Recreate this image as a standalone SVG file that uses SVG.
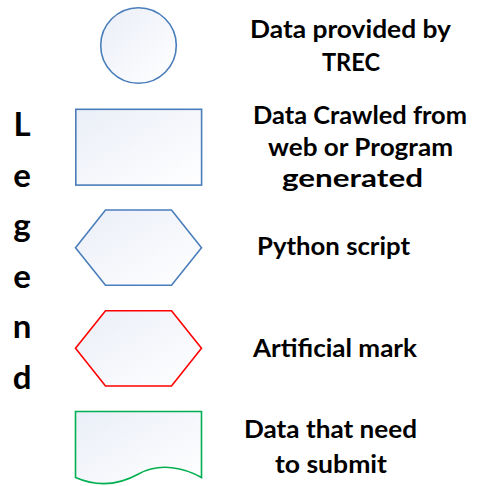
<svg xmlns="http://www.w3.org/2000/svg" width="477" height="486" viewBox="0 0 477 486">
<defs>
<linearGradient id="g" x1="0" y1="0" x2="1" y2="1">
<stop offset="0" stop-color="#eaeef7"/>
<stop offset="1" stop-color="#ffffff"/>
</linearGradient>
<style>
.s{fill:url(#g);stroke:#4a7ebb;stroke-width:1.6}
.r{stroke:#ff0000}
.gr{stroke:#00b050}
text{font-family:Lato,"Liberation Sans",sans-serif;font-weight:bold;fill:#000}
.t{font-size:25px}
.l{font-size:33px;text-anchor:middle}
</style>
</defs>
<g id="legend-title">
<text class="l" x="22" y="136">L</text>
<text class="l" x="22" y="187">e</text>
<text class="l" x="22" y="237">g</text>
<text class="l" x="22" y="288">e</text>
<text class="l" x="22" y="338">n</text>
<text class="l" x="22" y="389">d</text>
</g>
<g id="circle-node">
<circle class="s" cx="138.5" cy="45.5" r="37.8"/>
<text class="t" x="250" y="38" textLength="201" lengthAdjust="spacingAndGlyphs">Data provided by</text>
<text class="t" x="322" y="71" textLength="58" lengthAdjust="spacingAndGlyphs">TREC</text>
</g>
<g id="rect-node">
<rect class="s" x="75.8" y="109.3" width="125.8" height="75.8"/>
<text class="t" x="253" y="124" textLength="214" lengthAdjust="spacingAndGlyphs">Data Crawled from</text>
<text class="t" x="268" y="156" textLength="185" lengthAdjust="spacingAndGlyphs">web or Program</text>
<text class="t" x="282" y="187" textLength="141" lengthAdjust="spacingAndGlyphs">generated</text>
</g>
<g id="python-node">
<polygon class="s" points="105.5,210 171.5,210 201.5,247.7 171.5,285.3 105.5,285.3 75.5,247.7"/>
<text class="t" x="257" y="255" textLength="153" lengthAdjust="spacingAndGlyphs">Python script</text>
</g>
<g id="mark-node">
<polygon class="s r" points="105.5,310.7 171.5,310.7 201.5,348.3 171.5,386 105.5,386 75.5,348.3"/>
<text class="t" x="253" y="357" textLength="164" lengthAdjust="spacingAndGlyphs">Artificial mark</text>
</g>
<g id="submit-node">
<path class="s gr" d="M75.5,411.5 H201.5 V477.5 C185,468 160,462 138.5,474 C117,486 95,486 75.5,477.5 Z"/>
<text class="t" x="244" y="438" textLength="173" lengthAdjust="spacingAndGlyphs">Data that need</text>
<text class="t" x="275" y="473" textLength="112" lengthAdjust="spacingAndGlyphs">to submit</text>
</g>
<g id="connectors"/>
</svg>
